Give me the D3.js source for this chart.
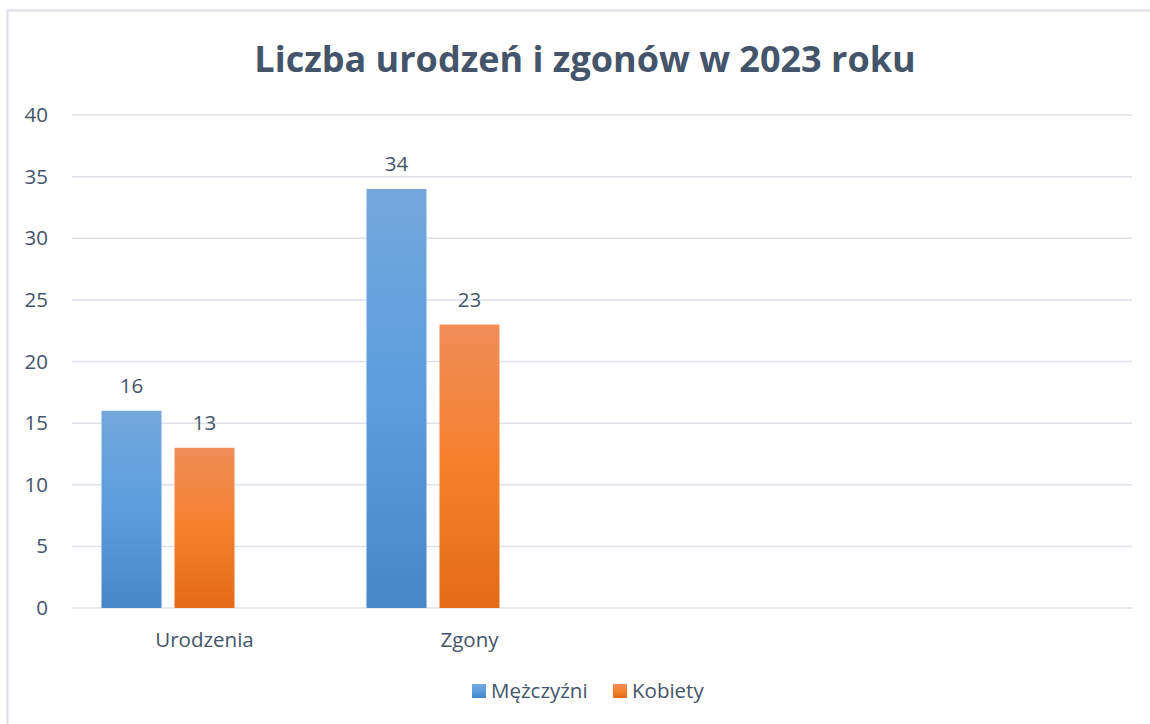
<!DOCTYPE html>
<html>
<head>
<meta charset="utf-8">
<script src="https://cdn.jsdelivr.net/npm/d3@7"></script>
<style>
  body { margin: 0; background: #fff; }
  text { font-family: "Open Sans", Lato, sans-serif; }
</style>
</head>
<body>
<script>
// chart data
var categories = ["Urodzenia", "Zgony", "", ""];   // two empty category slots, as in the source
var seriesNames = ["Mężczyźni", "Kobiety"];
var seriesSlots = ["Mężczyźni", "Kobiety", "(pusta)"]; // third series is empty
var menValues = [16, 34];
var womenValues = [13, 23];
var yTicks = [0, 5, 10, 15, 20, 25, 30, 35, 40];

var W = 1150, H = 724;
var svg = d3.select("body").append("svg")
  .attr("width", W)
  .attr("height", H)

var defs = svg.append("defs");
function grad(id, stops) {
  var g = defs.append("linearGradient").attr("id", id)
    .attr("x1", 0).attr("y1", 0).attr("x2", 0).attr("y2", 1);
  stops.forEach(function(s){
    g.append("stop").attr("offset", s[0]).attr("stop-color", s[1]);
  })
}
grad("gBlue", [[0, "#75a7dc"], [0.5, "#5b9ddf"], [1, "#4587c8"]]);
grad("gOrange", [[0, "#f08d58"], [0.5, "#f5802c"], [1, "#e46b18"]]);

// frame
svg.append("rect")
  .attr("x", 7.5).attr("y", 10.5)
  .attr("width", 1160).attr("height", 730)
  .attr("fill", "none").attr("stroke", "#d9dee6").attr("stroke-width", 2)

var plotLeft = 72, plotRight = 1132, plotTop = 115, plotBottom = 608;

var x0 = d3.scaleBand().domain(d3.range(categories.length)).range([plotLeft, plotRight]);
var x1 = d3.scaleBand().domain(d3.range(seriesSlots.length)).range([0, x0.bandwidth()])
  .paddingInner(13 / 73).paddingOuter(0.404);
var y = d3.scaleLinear().domain([0, 40]).range([plotBottom, plotTop]);

// title
svg.append("text")
  .attr("x", 585).attr("y", 72)
  .attr("text-anchor", "middle")
  .attr("font-size", 36).attr("font-weight", "bold")
  .attr("fill", "#44546a")
  .text("Liczba urodzeń i zgonów w 2023 roku")

// grid
svg.append("g").selectAll("line")
  .data(yTicks)
  .enter().append("line")
  .attr("x1", plotLeft).attr("x2", plotRight)
  .attr("y1", function(d){ return y(d) }).attr("y2", function(d){ return y(d) })
  .attr("stroke", "#dde1e8").attr("stroke-width", 1.5)

// y labels
svg.append("g").selectAll("text")
  .data(yTicks)
  .enter().append("text")
  .attr("x", 48).attr("y", function(d){ return y(d) + 7 })
  .attr("text-anchor", "end")
  .attr("font-size", 20.5).attr("fill", "#44546a")
  .text(function(d){ return d })

var series = [
  {name: seriesNames[0], values: menValues, fill: "url(#gBlue)", slot: 0},
  {name: seriesNames[1], values: womenValues, fill: "url(#gOrange)", slot: 1}
];

series.forEach(function(s){
  var g = svg.append("g");
  g.selectAll("rect")
    .data(s.values)
    .enter().append("rect")
    .attr("x", function(d, i){ return x0(i) + x1(s.slot) })
    .attr("width", x1.bandwidth())
    .attr("y", function(d){ return y(d) })
    .attr("height", function(d){ return y(0) - y(d) })
    .attr("fill", s.fill)
  g.selectAll("text")
    .data(s.values)
    .enter().append("text")
    .attr("x", function(d, i){ return x0(i) + x1(s.slot) + x1.bandwidth() / 2 })
    .attr("y", function(d){ return y(d) - 18 })
    .attr("text-anchor", "middle")
    .attr("font-size", 20.5).attr("fill", "#44546a")
    .text(function(d){ return d })
})

// category labels
svg.append("g").selectAll("text")
  .data(categories)
  .enter().append("text")
  .attr("x", function(d, i){ return x0(i) + x0.bandwidth() / 2 })
  .attr("y", 647)
  .attr("text-anchor", "middle")
  .attr("font-size", 20.5).attr("fill", "#44546a")
  .text(function(d){ return d })

// legend
var legendX = [472, 613];
var legendFill = ["url(#gBlue)", "url(#gOrange)"];
seriesNames.forEach(function(n, i){
  svg.append("rect")
    .attr("x", legendX[i]).attr("y", 684)
    .attr("width", 14).attr("height", 14)
    .attr("fill", legendFill[i])
  svg.append("text")
    .attr("x", legendX[i] + 19).attr("y", 698)
    .attr("font-size", 20.5).attr("fill", "#44546a")
    .text(n)
})
</script>
</body>
</html>
